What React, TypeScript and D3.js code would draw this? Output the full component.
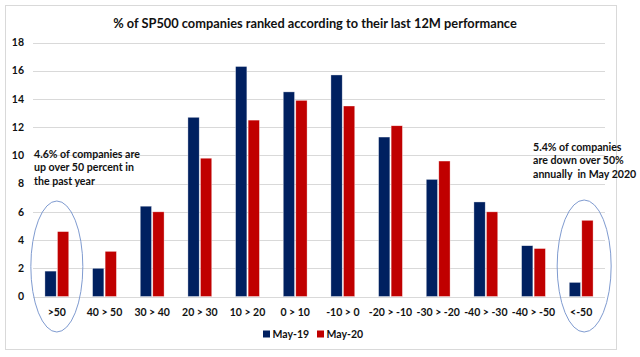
import React from "react";
import * as d3 from "d3";

const categories = [">50", "40 > 50", "30 > 40", "20 > 30", "10 > 20", "0 > 10", "-10 > 0", "-20 > -10", "-30 > -20", "-40 > -30", "-40 > -50", "<-50"];
const seriesNames = ["May-19", "May-20"];
const may19 = [1.8, 2.0, 6.4, 12.7, 16.3, 14.5, 15.7, 11.3, 8.3, 6.7, 3.6, 1.0];
const may20 = [4.6, 3.2, 6.0, 9.8, 12.5, 13.9, 13.5, 12.1, 9.6, 6.0, 3.4, 5.4];
const yTicks = [0, 2, 4, 6, 8, 10, 12, 14, 16, 18];
const title = "% of SP500 companies ranked according to their last 12M performance";
const noteLeft = ["4.6% of companies are", "up over 50 percent in", "the past year"];
const noteRight = ["5.4% of companies", "are down over 50%", "annually  in May 2020"];

const colors = ["#002060", "#C00000"];
const FONT = "Lato, 'Open Sans', sans-serif";
const INK = "#111111";

export default function App() {
  const W = 640, H = 357;
  const left = 33, right = 605, top = 42.5, bottom = 296.5;
  const x0 = d3.scaleBand<string>().domain(categories).range([left, right]).paddingInner(0.5).paddingOuter(0.25);
  const x1 = d3.scaleBand<string>().domain(seriesNames).range([0, x0.bandwidth()]).paddingInner(0.1);
  const y = d3.scaleLinear().domain([0, 18]).range([bottom, top]);
  const series = [may19, may20];

  const cxFirst = (x0(categories[0]) as number) + x0.bandwidth() / 2;
  const cxLast = (x0(categories[categories.length - 1]) as number) + x0.bandwidth() / 2;

  return (
    <svg width={W} height={H} style={{ position: "absolute", left: 0, top: 0, fontFamily: FONT, whiteSpace: "pre" }}>
      <rect x={0} y={0} width={W} height={H} fill="#ffffff" />
      <rect x={5.5} y={5.5} width={611} height={344} fill="none" stroke="#d9d9d9" strokeWidth={1} />
      <text x={315} y={27.5} textAnchor="middle" fontSize={12.8} fontWeight="bold" fill={INK}>{title}</text>
      {yTicks.map((t) => (
        <g key={t}>
          <line x1={left} x2={right} y1={Math.round(y(t)) + 0.5} y2={Math.round(y(t)) + 0.5} stroke="#d9d9d9" strokeWidth={1} />
          <text x={24} y={y(t)} dy="0.35em" textAnchor="end" fontSize={10.5} fontWeight="bold" fill={INK}>{t}</text>
        </g>
      ))}
      {categories.map((c, i) => (
        <g key={c} transform={`translate(${x0(c)},0)`}>
          {series.map((s, j) => (
            <rect key={j} x={x1(seriesNames[j])} y={y(s[i])} width={x1.bandwidth()} height={y(0) - y(s[i])}
              fill={colors[j]} stroke="#ffffff" strokeOpacity={0.6} strokeWidth={0.6} />
          ))}
          <text x={x0.bandwidth() / 2} y={312} dy="0.35em" textAnchor="middle" fontSize={10.5} fontWeight="bold" fill={INK}>{c}</text>
        </g>
      ))}
      <ellipse cx={cxFirst} cy={266.5} rx={26} ry={65.5} fill="none" stroke="#7f9bd0" strokeWidth={1} />
      <ellipse cx={cxLast + 3} cy={266} rx={27} ry={66} fill="none" stroke="#7f9bd0" strokeWidth={1} />
      {noteLeft.map((l, i) => (
        <text key={i} x={34} y={154 + i * 13.7} dy="0.35em" fontSize={10.6} fontWeight="bold" fill={INK}>{l}</text>
      ))}
      {noteRight.map((l, i) => (
        <text key={i} x={533} y={147 + i * 13.5} dy="0.35em" fontSize={10.6} fontWeight="bold" fill={INK} style={{ whiteSpace: "pre" }}>{l}</text>
      ))}
      <g>
        {seriesNames.map((n, j) => {
          const lx = j === 0 ? 263 : 317;
          return (
            <g key={n}>
              <rect x={lx} y={330.5} width={7} height={7} fill={colors[j]} />
              <text x={lx + 9.5} y={334} dy="0.35em" fontSize={10.5} fontWeight="bold" fill={INK}>{n}</text>
            </g>
          );
        })}
      </g>
    </svg>
  );
}
